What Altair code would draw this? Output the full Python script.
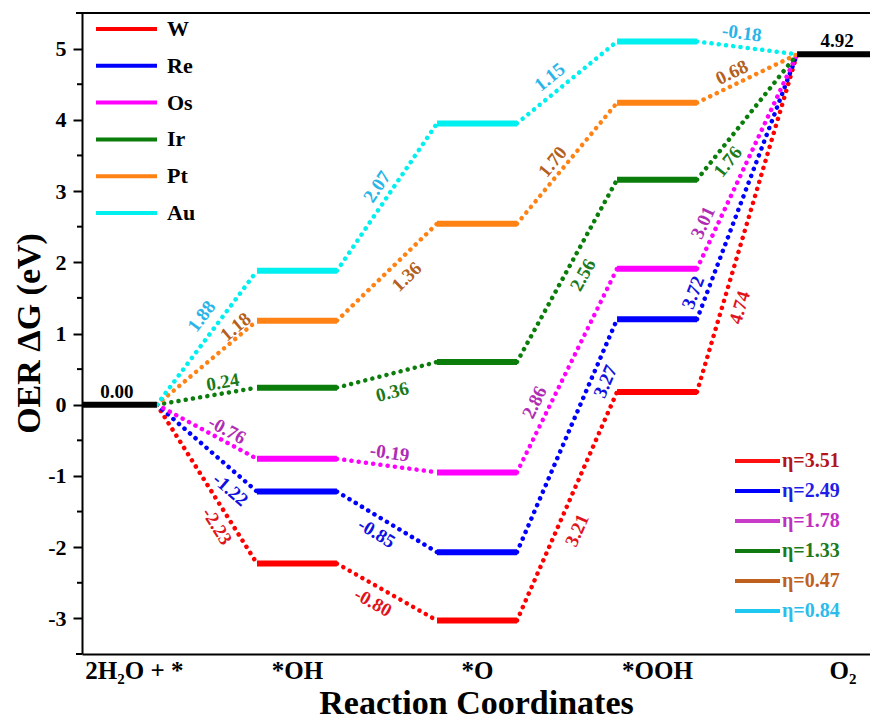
import math
import altair as alt
import pandas as pd

# ---------------- data ----------------
steps = ["2H₂O + *", "*OH", "*O", "*OOH", "O₂"]
metals = ["W", "Re", "Os", "Ir", "Pt", "Au"]
W_dG = [0.00, -2.23, -3.03, 0.18, 4.92]
Re_dG = [0.00, -1.22, -2.07, 1.20, 4.92]
Os_dG = [0.00, -0.76, -0.95, 1.91, 4.92]
Ir_dG = [0.00, 0.24, 0.60, 3.16, 4.92]
Pt_dG = [0.00, 1.18, 2.54, 4.24, 4.92]
Au_dG = [0.00, 1.88, 3.95, 5.10, 4.92]
levels = [W_dG, Re_dG, Os_dG, Ir_dG, Pt_dG, Au_dG]
eta = [3.51, 2.49, 1.78, 1.33, 0.47, 0.84]

# ---------------- styles ----------------
line_colors = ["#ff0000", "#0000ff", "#ff00ff", "#0b7d0b", "#ff8214", "#00f0f0"]
label_colors = ["#e0141c", "#1010e0", "#b02cb4", "#1b7a1b", "#b4601e", "#2ab4e8"]
eta_line_colors = ["#ff1010", "#0000ff", "#c83cc8", "#107a10", "#c0601e", "#1ec8f0"]
eta_text_colors = ["#b4141c", "#1e1ee6", "#c030c0", "#1b7a1b", "#c0601e", "#2cbcec"]
# label placement (pixels): along the connector from its middle, perpendicular (+ = above)
label_offsets = [
    [(41, -14), (-7, -16), (-18, -19), (-83, -17)],
    [(45, -16), (-3, -15), (65, -14), (-118, 13)],
    [(17, 11), (1, 13), (-43, 15), (-74, 14)],
    [(18, 11), (1, -18), (4, -16), (-47, -13)],
    [(45, 9), (11, -17), (-8, 12), (-11, 12)],
    [(14, 17), (3, 14), (-10, 15), (-7, 14)],
]

FONT = "Liberation Serif"
W_PX, H_PX = 788, 641
xmin, xmax = -0.194, 4.183
ymin, ymax = -3.5, 5.5
HW = 0.222
sx = W_PX / (xmax - xmin)
sy = H_PX / (ymax - ymin)


def to_px(x, y):
    return ((x - xmin) * sx, (ymax - y) * sy)


def to_data(px, py):
    return (xmin + px / sx, ymax - py / sy)


# ---------------- tables ----------------
lev_rows, conn_rows, lab_rows = [], [], []
for m, vals in enumerate(levels):
    for i in range(1, 4):
        lev_rows.append({"x": i - HW, "x2": i + HW, "y": vals[i], "c": line_colors[m]})
    for k in range(4):
        x0, x1 = k + HW, k + 1 - HW
        conn_rows.append({"x": x0, "x2": x1, "y": vals[k], "y2": vals[k + 1], "c": line_colors[m]})
        p0 = to_px(x0, vals[k])
        p1 = to_px(x1, vals[k + 1])
        dx, dy = p1[0] - p0[0], p1[1] - p0[1]
        L = math.hypot(dx, dy)
        ux, uy = dx / L, dy / L
        a, s = label_offsets[m][k]
        mx, my = (p0[0] + p1[0]) / 2, (p0[1] + p1[1]) / 2
        lx = mx + a * ux + s * uy
        ly = my + a * uy - s * ux
        xd, yd = to_data(lx, ly)
        ang = math.degrees(math.atan2(uy, ux)) % 360
        lab_rows.append({"x": xd, "y": yd, "t": f"{vals[k + 1] - vals[k]:.2f}",
                         "ang": ang, "c": label_colors[m]})
for i in (0, 4):
    lev_rows.append({"x": i - HW, "x2": i + HW, "y": levels[0][i], "c": "#000000"})

df_lev = pd.DataFrame(lev_rows)
df_conn = pd.DataFrame(conn_rows)
df_lab = pd.DataFrame(lab_rows)
df_end = pd.DataFrame({"x": [0, 4], "y": [levels[0][0], levels[0][4]],
                       "t": [f"{levels[0][0]:.2f}", f"{levels[0][4]:.2f}"]})

# legends (computed in pixels, converted to data)
leg1_l, leg1_t, leg2_l, leg2_t = [], [], [], []
for i, m in enumerate(metals):
    py = 16 + 36.8 * i
    xa, ya = to_data(14, py)
    xb, _ = to_data(75, py)
    xt, _ = to_data(85, py)
    leg1_l.append({"x": xa, "x2": xb, "y": ya, "c": line_colors[i]})
    leg1_t.append({"x": xt, "y": ya, "t": m})
    py2 = 448 + 30 * i
    xa, ya = to_data(653, py2)
    xb, _ = to_data(698, py2)
    xt, _ = to_data(700, py2)
    leg2_l.append({"x": xa, "x2": xb, "y": ya, "c": eta_line_colors[i]})
    leg2_t.append({"x": xt, "y": ya, "t": f"η={eta[i]:.2f}", "c": eta_text_colors[i]})

df_minor = pd.DataFrame({"y": [v + 0.5 for v in range(-3, 5)]})
df_top = pd.DataFrame({"y": [ymax]})
df_bot = pd.DataFrame({"y": [ymin]})

label_js = "[" + ",".join("'" + s + "'" for s in steps) + "]"

X = alt.X("x:Q",
          scale=alt.Scale(domain=[xmin, xmax], nice=False, zero=False),
          axis=alt.Axis(values=[0.094, 1, 2, 3, 4.03],
                        labelExpr=label_js + "[round(datum.value)]",
                        ticks=False, grid=False, labelFlush=False, labelOverlap=False,
                        labelFont=FONT, labelFontSize=25, labelFontWeight="bold",
                        labelColor="black", labelPadding=4,
                        domainColor="black", domainWidth=2,
                        title="Reaction Coordinates", titleFont=FONT, titleFontSize=34,
                        titleFontWeight="bold", titleColor="black",
                        titleY=59, titleBaseline="alphabetic"))
Y = alt.Y("y:Q",
          scale=alt.Scale(domain=[ymin, ymax], nice=False, zero=False),
          axis=alt.Axis(values=list(range(-3, 6)), labelExpr="'' + datum.value",
                        grid=False, tickSize=9, tickWidth=2, tickColor="black",
                        labelFont=FONT, labelFontSize=22, labelFontWeight="bold",
                        labelColor="black", labelPadding=7,
                        domainColor="black", domainWidth=2,
                        title="OER ΔG (eV)", titleFont=FONT, titleFontSize=34,
                        titleFontWeight="bold", titleColor="black",
                        titleX=-53, titleY=320, titleAngle=270,
                        titleAlign="center", titleBaseline="middle"))
C = alt.Color("c:N", scale=None)

conn = alt.Chart(df_conn).mark_rule(strokeWidth=4.5, strokeDash=[0.1, 7.2],
                                    strokeCap="round").encode(
    x=X, x2="x2:Q", y=Y, y2="y2:Q", color=C)
lev = alt.Chart(df_lev).mark_rule(strokeWidth=6, clip=True).encode(
    x=X, x2="x2:Q", y=Y, color=C)
labs = alt.Chart(df_lab).mark_text(font=FONT, fontSize=19, fontWeight="bold",
                                   align="center", baseline="middle").encode(
    x=X, y=Y, text="t:N", angle=alt.Angle("ang:Q", scale=None), color=C)
ends = alt.Chart(df_end).mark_text(font=FONT, fontSize=19, fontWeight="bold",
                                   align="center", baseline="middle", dy=-13,
                                   color="black").encode(x=X, y=Y, text="t:N")
minor = alt.Chart(df_minor).mark_rule(strokeWidth=2, color="black").encode(
    x=alt.value(-5), x2=alt.value(0), y=Y)
top = alt.Chart(df_top).mark_rule(strokeWidth=2, color="black").encode(
    x=alt.value(-6), x2=alt.value(W_PX), y=Y)
bot = alt.Chart(df_bot).mark_rule(strokeWidth=2, color="black").encode(
    x=alt.value(-6), x2=alt.value(0), y=Y)
l1l = alt.Chart(pd.DataFrame(leg1_l)).mark_rule(strokeWidth=4).encode(
    x=X, x2="x2:Q", y=Y, color=C)
l1t = alt.Chart(pd.DataFrame(leg1_t)).mark_text(font=FONT, fontSize=22, fontWeight="bold",
                                                 align="left", baseline="middle",
                                                 color="black").encode(x=X, y=Y, text="t:N")
l2l = alt.Chart(pd.DataFrame(leg2_l)).mark_rule(strokeWidth=4).encode(
    x=X, x2="x2:Q", y=Y, color=C)
l2t = alt.Chart(pd.DataFrame(leg2_t)).mark_text(font=FONT, fontSize=20, fontWeight="bold",
                                                 align="left", baseline="middle").encode(
    x=X, y=Y, text="t:N", color=C)

chart = alt.layer(conn, lev, labs, ends, minor, top, bot, l1l, l1t, l2l, l2t).properties(
    width=W_PX, height=H_PX,
    padding={"left": 82, "top": 13, "right": 0, "bottom": 67},
    autosize=alt.AutoSizeParams(type="none"),
    background="white",
).configure_view(stroke=None)

chart.save("out.html", embed_options={"renderer": "svg", "actions": False})
